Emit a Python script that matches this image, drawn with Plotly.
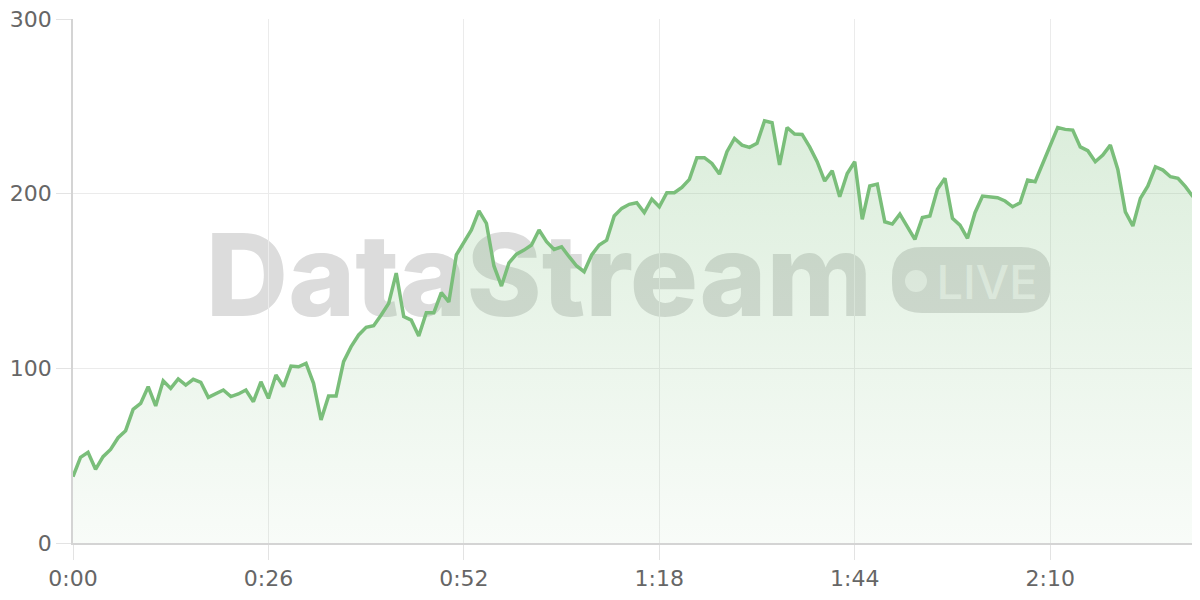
import plotly.graph_objects as go

# time in seconds (one sample per second)
seconds = list(range(150))
values = [
    38.0, 49.0, 51.9, 42.2, 49.4, 53.6, 60.3, 64.3, 76.5, 79.9,
    89.5, 78.5, 92.9, 88.5, 93.9, 90.4, 93.7, 92.0, 83.4, 85.3,
    87.6, 83.8, 85.3, 87.6, 80.9, 92.3, 82.8, 96.2, 89.5, 101.3,
    100.9, 102.8, 91.4, 70.5, 84.1, 84.1, 103.8, 112.4, 119.1, 123.5,
    124.4, 130.5, 137.2, 154.5, 129.6, 127.6, 118.5, 131.8, 131.8, 143.3,
    138.0, 164.9, 171.9, 179.2, 190.2, 183.0, 158.6, 147.1, 160.4, 165.4,
    167.7, 170.6, 179.2, 172.5, 168.1, 169.6, 163.9, 158.6, 155.3, 164.9,
    170.6, 173.4, 187.2, 191.6, 193.9, 194.8, 189.2, 196.9, 192.5, 200.5,
    200.5, 203.6, 208.2, 220.6, 220.6, 217.3, 211.2, 224.0, 231.6, 227.8,
    226.5, 228.8, 241.7, 240.6, 216.4, 237.9, 234.1, 233.9, 226.8, 218.3,
    207.2, 213.1, 198.2, 211.5, 218.3, 185.3, 204.4, 205.5, 183.9, 182.6,
    188.3, 181.5, 173.8, 186.4, 187.2, 202.5, 208.8, 185.9, 182.0, 174.4,
    189.1, 198.6, 197.9, 197.7, 195.8, 192.5, 194.8, 207.8, 206.8, 217.3,
    226.8, 237.9, 236.8, 236.4, 226.8, 224.6, 218.3, 222.1, 227.8, 213.9,
    189.6, 181.5, 197.3, 204.4, 215.4, 213.5, 209.7, 208.8, 204.0, 198.2,
]
tick_vals = [0, 26, 52, 78, 104, 130]
tick_text = ["0:00", "0:26", "0:52", "1:18", "1:44", "2:10"]
y_ticks = [0, 100, 200, 300]

LINE = "rgb(122,190,122)"

fig = go.Figure()
fig.add_trace(go.Scatter(
    x=seconds, y=values, mode="lines",
    line=dict(color=LINE, width=3.5),
    fill="tozeroy",
    fillgradient=dict(
        type="vertical", start=0, stop=300,
        colorscale=[[0, "rgba(122,190,122,0.05)"], [1, "rgba(122,190,122,0.32)"]],
    ),
    hoverinfo="skip",
))

# page places the figure 8px in from the top-left corner; target plot area
# on screen is x 73..1193, y 19..543
OFF = 8
L, R, T, B = 73, 1193, 19, 543
def px(x):
    return (x - L) / (R - L)
def py(y):
    return (B - y) / (B - T)

WM = "rgba(150,150,150,0.33)"
shapes = []
# "DataStream" watermark text
shapes.append(dict(
    type="rect", xref="paper", yref="paper", layer="below",
    x0=px(200), x1=px(878), y0=py(320), y1=py(220),
    line=dict(width=0), fillcolor="rgba(0,0,0,0)",
    label=dict(text="DataStream", textposition="middle center",
               font=dict(family="Inter", size=114, color=WM, weight=800)),
))
# LIVE pill (rounded rect)
x0, x1, y0, y1, r = 892, 1051, 247, 313, 30
rx = r / (R - L)
ry = r / (B - T)
X0, X1, Y0, Y1 = px(x0), px(x1), py(y1), py(y0)
path = (f"M {X0+rx},{Y0} L {X1-rx},{Y0} Q {X1},{Y0} {X1},{Y0+ry} "
        f"L {X1},{Y1-ry} Q {X1},{Y1} {X1-rx},{Y1} L {X0+rx},{Y1} "
        f"Q {X0},{Y1} {X0},{Y1-ry} L {X0},{Y0+ry} Q {X0},{Y0} {X0+rx},{Y0} Z")
shapes.append(dict(type="path", xref="paper", yref="paper", layer="below",
                   path=path, fillcolor=WM, line=dict(width=0)))
shapes.append(dict(type="circle", xref="paper", yref="paper", layer="below",
                   x0=px(905), x1=px(927), y0=py(292), y1=py(270),
                   fillcolor="rgba(255,255,255,0.6)", line=dict(width=0)))
shapes.append(dict(
    type="rect", xref="paper", yref="paper", layer="below",
    x0=px(936), x1=px(1038), y0=py(312), y1=py(248),
    line=dict(width=0), fillcolor="rgba(0,0,0,0)",
    label=dict(text="LIVE", textposition="middle center",
               font=dict(family="Inter", size=47, color="rgba(255,255,255,0.6)", weight=500)),
))

W, H = 1200, 600
fig.update_layout(
    width=W, height=H,
    margin=dict(l=L - OFF, r=W - (R - OFF), t=T - OFF, b=H - (B - OFF), autoexpand=False),
    paper_bgcolor="white", plot_bgcolor="white",
    showlegend=False,
    shapes=shapes,
    font=dict(family="DejaVu Sans", size=22, color="#666666"),
)
fig.update_xaxes(
    range=[0, 149], tickvals=tick_vals, ticktext=tick_text,
    showgrid=True, gridcolor="#ebebeb", gridwidth=1,
    showline=True, linecolor="#d4d4d4", linewidth=1.5,
    ticks="outside", ticklen=15, tickcolor="#e3e3e3",
    zeroline=False, fixedrange=True, automargin=False,
    ticklabeloverflow="allow",
)
fig.update_yaxes(
    range=[0, 300], tickvals=y_ticks,
    showgrid=True, gridcolor="#ebebeb", gridwidth=1,
    showline=True, linecolor="#d4d4d4", linewidth=1.5,
    ticks="outside", ticklen=15, tickcolor="#e3e3e3",
    zeroline=False, fixedrange=True, automargin=False,
    ticklabeloverflow="allow",
)

fig.write_html("out.html")
